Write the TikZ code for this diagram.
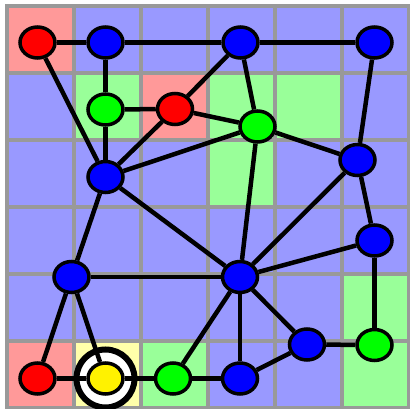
\documentclass[tikz,border=0pt]{standalone}
\usepackage{xcolor,tikz}
\usetikzlibrary{shapes.geometric,backgrounds}
\definecolor{cellr}{HTML}{FF9999}
\definecolor{cellb}{HTML}{9999FF}
\definecolor{cellg}{HTML}{99FF99}
\definecolor{celly}{HTML}{FFFFAA}
\definecolor{gridgray}{HTML}{999999}
\tikzset{v/.style={shape=ellipse,draw=black,line width=3.5pt,minimum width=35pt,minimum height=31pt,inner sep=0pt},
 rn/.style={v,fill=red},bn/.style={v,fill=blue},gn/.style={v,fill=green},yn/.style={v,fill=yellow},
 wire/.style={line width=4.5pt},gridline/.style={draw=gridgray,line width=4.5pt,line cap=rect},
 ring/.style={draw=black,fill=white,line width=6pt}}

\begin{document}
\begin{tikzpicture}[x=1pt,y=-1pt]
\useasboundingbox (0,0) rectangle (410,409);
\node[rn](r1) at(37.5,42.5){};
\node[bn](b1) at(105.5,42.5){};
\node[bn](b2) at(240.5,42.5){};
\node[bn](b3) at(374.5,42.5){};
\node[gn](g1) at(105.5,109.5){};
\node[rn](r2) at(175,109){};
\node[gn](g2) at(257.5,126.5){};
\node[bn](b4) at(357.5,160){};
\node[bn](b5) at(105.5,177){};
\node[bn](b6) at(374.5,240.5){};
\node[bn](b7) at(71.5,277){};
\node[bn](b8) at(240,277){};
\node[bn](b9) at(307,344.5){};
\node[gn](g3) at(374.5,345){};
\node[rn](r3) at(37.5,378.5){};
\node[yn](y1) at(105.5,378.5){};
\node[gn](g4) at(173,378.5){};
\node[bn](b10) at(240,378.5){};
\begin{scope}[on background layer]
\foreach \row [count=\r from 0] in {{r,b,b,b,b,b},{b,g,r,g,g,b},{b,b,b,g,b,b},{b,b,b,b,b,b},{b,b,b,b,b,g},{r,y,g,b,b,g}}{
 \foreach \c [count=\k from 0] in \row {\fill[cell\c](7+67*\k,6+67*\r) rectangle ++(67,67);}}
\foreach \k in {0,...,6}{
 \draw[gridline](7+67*\k,6)--(7+67*\k,408);
 \draw[gridline](7,6+67*\k)--(409,6+67*\k);}
\draw[ring](y1.center) circle (29);
\foreach \u/\w in {r1/b1,b1/b2,b2/b3,r1/b5,b1/g1,g1/r2,g1/b5,r2/b5,r2/b2,r2/g2,b2/g2,b5/g2,
 b3/b4,g2/b4,b5/b8,b5/b7,g2/b8,b4/b8,b4/b6,b6/b8,b6/g3,b7/b8,b7/r3,b7/y1,
 b8/b9,b8/b10,b8/g4,b9/b10,b9/g3,r3/y1,y1/g4,g4/b10}
 \draw[wire](\u)--(\w);
\end{scope}
\end{tikzpicture}
\end{document}
